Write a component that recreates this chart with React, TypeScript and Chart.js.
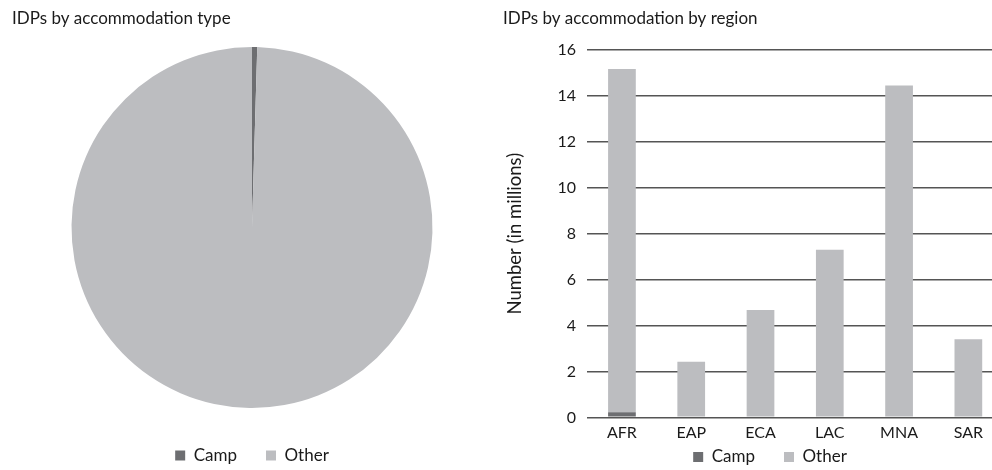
import React, { useEffect, useRef } from "react";
import { Chart, registerables } from "chart.js";

Chart.register(...registerables);

const regions = ["AFR", "EAP", "ECA", "LAC", "MNA", "SAR"];
const campValues = [0.22, 0, 0, 0, 0, 0];
const otherValues = [14.95, 2.42, 4.68, 7.3, 14.45, 3.4];
const seriesNames = ["Camp", "Other"];
const yTicks = [0, 2, 4, 6, 8, 10, 12, 14, 16];

const CAMP_COLOR = "#6d6e71";
const OTHER_COLOR = "#bcbdc0";
const TEXT_COLOR = "#1a1a1a";
const FONT = "Lato, 'Open Sans', sans-serif";

const sum = (a: number[]) => a.reduce((s, v) => s + v, 0);

// moves the legend box by opts.dx / opts.dy pixels after layout
const shiftLegend = {
  id: "shiftLegend",
  afterLayout(chart: any, _args: any, opts: any) {
    const l = chart.legend;
    if (!l || !opts) return;
    const dx = opts.dx || 0;
    const dy = opts.dy || 0;
    l.left += dx;
    l.right += dx;
    l.top += dy;
    l.bottom += dy;
  },
};

const legendLabels = {
  color: TEXT_COLOR,
  font: { family: FONT, size: 17 },
  boxWidth: 10,
  boxHeight: 10,
  padding: 29,
};

function PieChart() {
  const ref = useRef<HTMLCanvasElement>(null);
  useEffect(() => {
    const chart = new Chart(ref.current!, {
      type: "pie",
      data: {
        labels: seriesNames,
        datasets: [
          {
            data: [sum(campValues), sum(otherValues)],
            backgroundColor: [CAMP_COLOR, OTHER_COLOR],
            borderWidth: 0,
          },
        ],
      },
      options: {
        animation: false,
        responsive: false,
        layout: { padding: { left: 4, right: 8, top: 0, bottom: 0 } },
        plugins: {
          title: {
            display: true,
            text: "IDPs by accommodation type",
            align: "start",
            color: TEXT_COLOR,
            font: { family: FONT, size: 17, weight: "normal" },
            padding: { top: 0.8, bottom: 17.8 },
          },
          legend: {
            position: "bottom",
            labels: legendLabels,
            title: { display: true, text: "", font: { size: 1 }, padding: { top: 0, bottom: 8.8 } },
          },
          tooltip: { enabled: false },
        },
      },
    });
    return () => chart.destroy();
  }, []);
  return <canvas ref={ref} width={492} height={466} />;
}

function BarChart() {
  const ref = useRef<HTMLCanvasElement>(null);
  useEffect(() => {
    const chart = new Chart(ref.current!, {
      type: "bar",
      data: {
        labels: regions,
        datasets: [
          {
            label: seriesNames[0],
            data: campValues,
            backgroundColor: CAMP_COLOR,
            barPercentage: 0.4,
            categoryPercentage: 1,
          },
          {
            label: seriesNames[1],
            data: otherValues,
            backgroundColor: OTHER_COLOR,
            barPercentage: 0.4,
            categoryPercentage: 1,
          },
        ],
      },
      plugins: [shiftLegend],
      options: {
        animation: false,
        responsive: false,
        layout: { padding: { left: 3, right: 0, top: 0, bottom: 0 } },
        scales: {
          x: {
            stacked: true,
            grid: { display: false, drawTicks: false },
            border: { display: false },
            ticks: {
              color: TEXT_COLOR,
              font: { family: FONT, size: 16 },
              padding: 5.7,
            },
          },
          y: {
            stacked: true,
            min: 0,
            max: 16,
            afterBuildTicks: (s: any) => {
              s.ticks = yTicks.map((v) => ({ value: v }));
            },
            afterFit: (s: any) => {
              s.width = 84.3;
            },
            grid: { color: "#555555", lineWidth: 1.6, drawTicks: false },
            border: { display: false },
            ticks: {
              color: TEXT_COLOR,
              font: { family: FONT, size: 16 },
              padding: 11.3,
            },
            title: {
              display: true,
              text: "Number (in millions)",
              color: TEXT_COLOR,
              font: { family: FONT, size: 18.5 },
              padding: { top: 0.9, bottom: 0 },
            },
          },
        },
        plugins: {
          title: {
            display: true,
            text: "IDPs by accommodation by region",
            align: "start",
            color: TEXT_COLOR,
            font: { family: FONT, size: 17, weight: "normal" },
            padding: { top: 0.8, bottom: 20.8 },
          },
          legend: {
            position: "bottom",
            labels: legendLabels,
          },
          shiftLegend: { dx: 17, dy: -28.5 },
          tooltip: { enabled: false },
        } as any,
      },
    });
    return () => chart.destroy();
  }, []);
  return <canvas ref={ref} width={503} height={496} />;
}

export default function App() {
  return (
    <div
      style={{
        position: "absolute",
        left: 8,
        top: 8,
        width: 984,
        height: 462,
        overflow: "hidden",
      }}
    >
      <div style={{ position: "absolute", left: 0, top: 0 }}>
        <PieChart />
      </div>
      <div style={{ position: "absolute", left: 492, top: 0 }}>
        <BarChart />
      </div>
    </div>
  );
}
